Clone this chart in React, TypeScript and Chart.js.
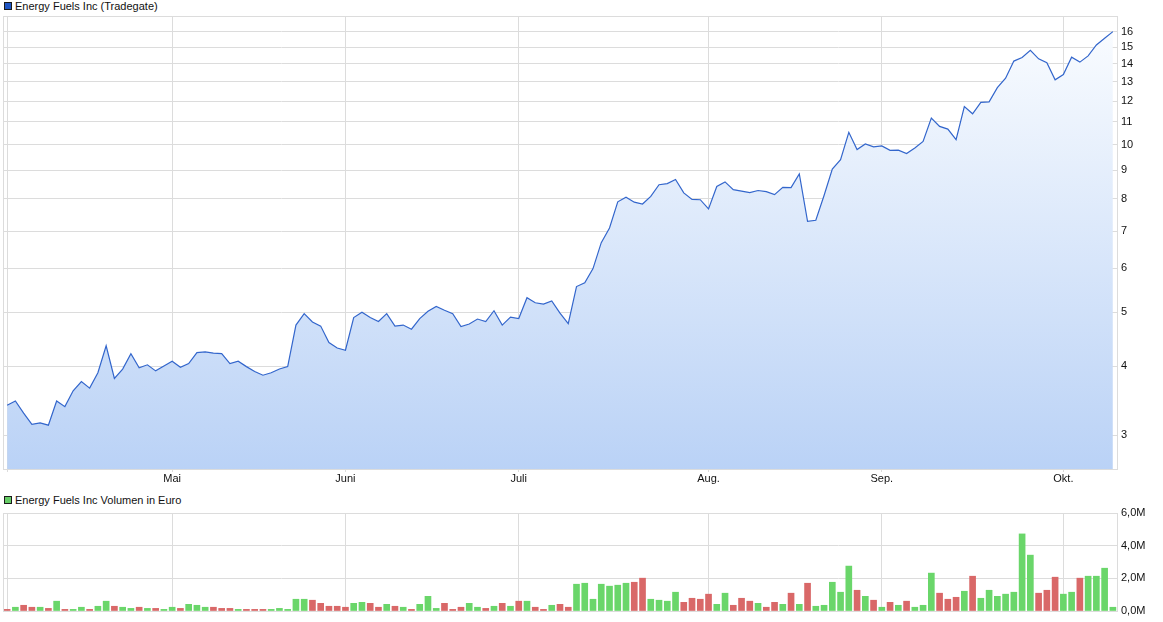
import React, { useEffect, useRef } from 'react';
import { Chart, registerables } from 'chart.js';

Chart.register(...registerables);

const monthIndex = [20, 41, 62, 85, 106, 128];
const monthLabels = ['Mai', 'Juni', 'Juli', 'Aug.', 'Sep.', 'Okt.'];
const priceTicks = [3, 4, 5, 6, 7, 8, 9, 10, 11, 12, 13, 14, 15, 16];
const volumeTicks = [0, 2, 4, 6];

const prices = [
  3.40, 3.46, 3.29, 3.14, 3.16, 3.13, 3.46, 3.38, 3.61, 3.75,
  3.65, 3.89, 4.35, 3.80, 3.95, 4.21, 3.97, 4.02, 3.92, 4.00,
  4.08, 3.98, 4.04, 4.23, 4.24, 4.22, 4.21, 4.04, 4.08, 3.99,
  3.91, 3.85, 3.89, 3.95, 3.99, 4.74, 4.97, 4.80, 4.72, 4.41,
  4.31, 4.27, 4.89, 5.00, 4.89, 4.81, 4.97, 4.72, 4.74, 4.66,
  4.87, 5.02, 5.12, 5.04, 4.97, 4.71, 4.76, 4.86, 4.81, 5.03,
  4.74, 4.90, 4.87, 5.31, 5.20, 5.17, 5.24, 4.98, 4.77, 5.56,
  5.65, 5.99, 6.67, 7.09, 7.90, 8.05, 7.89, 7.83, 8.08, 8.48,
  8.52, 8.67, 8.20, 7.98, 7.97, 7.67, 8.42, 8.58, 8.31, 8.26,
  8.21, 8.28, 8.24, 8.14, 8.39, 8.38, 8.87, 7.29, 7.32, 8.11,
  9.05, 9.41, 10.54, 9.81, 10.04, 9.92, 9.96, 9.78, 9.79, 9.65,
  9.88, 10.15, 11.18, 10.80, 10.68, 10.22, 11.73, 11.38, 11.93, 11.96,
  12.68, 13.19, 14.16, 14.37, 14.81, 14.29, 14.06, 13.10, 13.39, 14.39,
  14.10, 14.47, 15.14, 15.57, 16.00,
];

// Volume in millions of euro
const volumes = [
  0.10, 0.23, 0.35, 0.23, 0.23, 0.16, 0.60, 0.10, 0.10, 0.23,
  0.10, 0.29, 0.60, 0.29, 0.23, 0.16, 0.23, 0.16, 0.16, 0.10,
  0.23, 0.16, 0.41, 0.35, 0.23, 0.23, 0.16, 0.16, 0.10, 0.10,
  0.10, 0.10, 0.10, 0.16, 0.10, 0.72, 0.72, 0.66, 0.47, 0.29,
  0.29, 0.23, 0.47, 0.53, 0.47, 0.23, 0.41, 0.29, 0.23, 0.10,
  0.41, 0.90, 0.16, 0.47, 0.10, 0.23, 0.47, 0.23, 0.16, 0.29,
  0.47, 0.29, 0.60, 0.60, 0.23, 0.10, 0.35, 0.41, 0.23, 1.64,
  1.70, 0.72, 1.64, 1.52, 1.58, 1.70, 1.76, 2.01, 0.72, 0.66,
  0.60, 1.15, 0.53, 0.78, 0.72, 1.03, 0.41, 1.09, 0.35, 0.78,
  0.60, 0.47, 0.23, 0.53, 0.41, 1.09, 0.41, 1.70, 0.29, 0.35,
  1.76, 1.15, 2.75, 1.27, 0.90, 0.66, 0.23, 0.53, 0.35, 0.60,
  0.23, 0.35, 2.32, 1.09, 0.72, 0.84, 1.21, 2.13, 0.78, 1.27,
  0.90, 1.03, 1.15, 4.72, 3.42, 1.09, 1.27, 2.07, 1.03, 1.15,
  2.01, 2.13, 2.13, 2.62, 0.23,
];

const categories = prices.map((_, i) => String(i));
const gridIdx = [0, ...monthIndex];

const FONT = "'Liberation Sans', Arial, sans-serif";
const GRID = '#dcdcdc';
const GREEN = '#6ad66a';
const RED = '#d96868';

const framePlugin = {
  id: 'frame',
  afterDatasetsDraw(chart: any) {
    const { ctx, chartArea: a } = chart;
    ctx.save();
    ctx.strokeStyle = GRID;
    ctx.lineWidth = 1;
    ctx.strokeRect(Math.round(a.left) + 0.5, Math.round(a.top) + 0.5, Math.round(a.right - a.left), Math.round(a.bottom - a.top));
    ctx.restore();
  },
};

export default function App() {
  const topRef = useRef<HTMLCanvasElement>(null);
  const botRef = useRef<HTMLCanvasElement>(null);

  useEffect(() => {
    const up = prices.map((p, i) => (i > 0 && p > prices[i - 1]));
    const xGrid = {
      color: (c: any) => (gridIdx.includes(c.index) ? GRID : 'rgba(0,0,0,0)'),
      lineWidth: 1,
    };

    const top = new Chart(topRef.current!, {
      type: 'line',
      data: {
        labels: categories,
        datasets: [
          {
            data: prices,
            borderColor: '#3366cc',
            borderWidth: 1.2,
            pointRadius: 0,
            tension: 0,
            fill: 'start',
            backgroundColor: (c: any) => {
              const { chart } = c;
              const a = chart.chartArea;
              if (!a) return 'rgba(200,215,245,0.6)';
              const g = chart.ctx.createLinearGradient(0, a.top, 0, a.bottom);
              g.addColorStop(0, '#fbfdff');
              g.addColorStop(1, '#bad2f6');
              return g;
            },
          },
        ],
      },
      options: {
        animation: false,
        responsive: false,
        devicePixelRatio: 1,
        layout: { padding: { top: 16, left: 3, right: 0, bottom: 0 } },
        plugins: { legend: { display: false }, tooltip: { enabled: false } },
        scales: {
          x: {
            type: 'category',
            offset: true,
            grid: { ...xGrid, drawTicks: true, tickLength: 3, offset: false },
            border: { display: false },
            ticks: {
              autoSkip: false,
              maxRotation: 0,
              minRotation: 0,
              padding: 0,
              color: '#111',
              font: { family: FONT, size: 11 },
              callback: (_v: any, idx: number) => {
                const k = monthIndex.indexOf(idx);
                return k >= 0 ? monthLabels[k] : '';
              },
            },
            afterFit: (s: any) => { s.height = 21; },
          },
          y: {
            type: 'logarithmic',
            position: 'right',
            min: 2.61,
            max: 17.07,
            grid: { color: GRID, drawTicks: false },
            border: { display: false },
            ticks: {
              padding: 4,
              color: '#111',
              font: { family: FONT, size: 11 },
              callback: (v: any) => String(v),
            },
            afterBuildTicks: (s: any) => { s.ticks = priceTicks.map((v) => ({ value: v })); },
            afterFit: (s: any) => { s.width = 46; },
          },
        },
      },
      plugins: [framePlugin],
    } as any);

    const bot = new Chart(botRef.current!, {
      type: 'bar',
      data: {
        labels: categories,
        datasets: [
          {
            data: volumes,
            backgroundColor: up.map((u) => (u ? GREEN : RED)),
            barThickness: 6,
            categoryPercentage: 1,
            borderWidth: 0,
          },
        ],
      },
      options: {
        animation: false,
        responsive: false,
        devicePixelRatio: 1,
        layout: { padding: { top: 23, left: 3, right: 0, bottom: 0 } },
        plugins: { legend: { display: false }, tooltip: { enabled: false } },
        scales: {
          x: {
            type: 'category',
            offset: true,
            grid: { ...xGrid, drawTicks: false, offset: false },
            border: { display: false },
            ticks: { display: false, autoSkip: false },
            afterFit: (s: any) => { s.height = 11; },
          },
          y: {
            type: 'linear',
            position: 'right',
            min: 0,
            max: 6,
            grid: { color: GRID, drawTicks: false },
            border: { display: false },
            ticks: {
              padding: 4,
              color: '#111',
              font: { family: FONT, size: 11 },
              callback: (v: any) => Number(v).toFixed(1).replace('.', ',') + 'M',
            },
            afterBuildTicks: (s: any) => { s.ticks = volumeTicks.map((v) => ({ value: v })); },
            afterFit: (s: any) => { s.width = 46; },
          },
        },
      },
      plugins: [framePlugin],
    } as any);

    return () => {
      top.destroy();
      bot.destroy();
    };
  }, []);

  const legendText: React.CSSProperties = {
    position: 'absolute',
    left: 15,
    fontFamily: FONT,
    fontSize: 11,
    lineHeight: '12px',
    color: '#111',
    whiteSpace: 'nowrap',
  };
  const box = (bg: string, topPx: number): React.CSSProperties => ({
    position: 'absolute',
    left: 4,
    top: topPx,
    width: 8,
    height: 8,
    boxSizing: 'border-box',
    border: '1px solid #1a1a1a',
    background: bg,
  });

  return (
    <div style={{ position: 'absolute', left: 0, top: 0, width: 1163, height: 622, background: '#fff', overflow: 'hidden' }}>
      <div style={box('#1f56c4', 2)} />
      <div style={{ ...legendText, top: 0 }}>Energy Fuels Inc (Tradegate)</div>
      <canvas ref={topRef} width={1163} height={490} style={{ position: 'absolute', left: 0, top: 0, width: 1163, height: 490 }} />
      <div style={box('#66cc66', 496)} />
      <div style={{ ...legendText, top: 494 }}>Energy Fuels Inc Volumen in Euro</div>
      <canvas ref={botRef} width={1163} height={132} style={{ position: 'absolute', left: 0, top: 490, width: 1163, height: 132 }} />
    </div>
  );
}
